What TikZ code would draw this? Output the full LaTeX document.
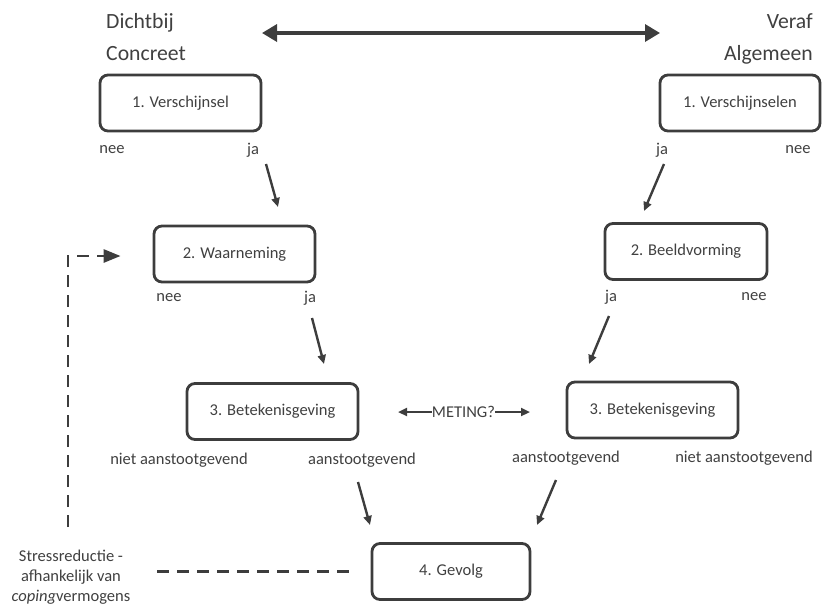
\documentclass[tikz,border=0pt]{standalone}
\usepackage{fontspec}
\setmainfont{Carlito}
\usepackage{tikz}
\usetikzlibrary{calc,shapes,positioning}
\usetikzlibrary{arrows.meta}
\tikzset{>={Triangle[width=8pt,length=9pt]}}
\definecolor{dgray}{HTML}{3D3D3D}
\definecolor{tgray}{HTML}{404040}

\begin{document}
\begin{tikzpicture}[x=1pt,y=-1pt]
          \tikzstyle{box} = [draw=dgray, line width=2.8pt, rounded corners=8pt, minimum height=56pt, text=tgray, font=\fontsize{16.5}{19}\selectfont]
          \tikzstyle{lbl} = [text=tgray, inner sep=0pt, font=\fontsize{16.5}{19}\selectfont]
          \tikzstyle{head} = [text=tgray, inner sep=0pt, font=\fontsize{21.7}{32}\selectfont]
          \tikzstyle{arr} = [->, draw=dgray, line width=2.4pt]
          \tikzstyle{dashline} = [draw=dgray, line width=2.8pt, dash pattern=on 12pt off 8pt]
          \useasboundingbox (0,0) rectangle (823,606);

          % kop
          \node[head, anchor=north west, align=left] (near) at (106,13) {Dichtbij\\Concreet};
          \node[head, anchor=north east, align=right] (far) at (813,13) {Veraf\\Algemeen};
          \coordinate (tl) at (262,33);
          \coordinate (tr) at (660,33);
          \draw[<->, draw=dgray, line width=3.4pt, >={Triangle[width=17pt,length=15pt]}] (tl) -- (tr);

          % links
          \node[box, minimum width=161pt] (v1) at (180.5,103) {1. Verschijnsel};
          \node[lbl] (nee1) at (112,150) {nee};
          \node[lbl] (ja1) at (253,150) {ja};
          \node[box, minimum width=161pt] (w2) at (234.5,254) {2. Waarneming};
          \node[lbl] (nee2) at (169,298) {nee};
          \node[lbl] (ja2) at (310,298) {ja};
          \node[box, minimum width=171pt] (b3) at (272.5,411.5) {3. Betekenisgeving};
          \node[lbl] (niet3) at (179,460) {niet aanstootgevend};
          \node[lbl] (aan3) at (362,460) {aanstootgevend};

          % rechts
          \node[box, minimum width=160pt] (v1r) at (740,103) {1. Verschijnselen};
          \node[lbl] (ja1r) at (662,150) {ja};
          \node[lbl] (nee1r) at (798,150) {nee};
          \node[box, minimum width=162pt] (b2r) at (686,251.5) {2. Beeldvorming};
          \node[lbl] (ja2r) at (611,297) {ja};
          \node[lbl] (nee2r) at (754,297) {nee};
          \node[box, minimum width=171pt] (b3r) at (652.5,410) {3. Betekenisgeving};
          \node[lbl] (aan3r) at (566,458) {aanstootgevend};
          \node[lbl] (niet3r) at (744,458) {niet aanstootgevend};

          \node[box, minimum width=158pt] (g4) at (451,571.5) {4. Gevolg};

          \node[lbl] (meting) at (463.5,412) {METING?};
          \coordinate (mL) at (398,412);
          \coordinate (mR) at (530,412);
          \draw[->, draw=dgray, line width=2.2pt] (meting.west) -- (mL);
          \draw[->, draw=dgray, line width=2.2pt] (meting.east) -- (mR);

          \node[lbl, align=center, font=\fontsize{16.5}{20}\selectfont] (stress) at (71,577) {Stressreductie -\\afhankelijk van\\\textit{coping}vermogens};

          % pijlen
          \coordinate (a1s) at (266,164);  \coordinate (a1e) at (278,207);
          \coordinate (a2s) at (312,318);  \coordinate (a2e) at (324,364);
          \coordinate (a3s) at (358,482);  \coordinate (a3e) at (370,525);
          \coordinate (r1s) at (664,164);  \coordinate (r1e) at (644,211);
          \coordinate (r2s) at (609,316);  \coordinate (r2e) at (589,364);
          \coordinate (r3s) at (556,480);  \coordinate (r3e) at (537,525);
          \draw[arr] (a1s) -- (a1e);
          \draw[arr] (a2s) -- (a2e);
          \draw[arr] (a3s) -- (a3e);
          \draw[arr] (r1s) -- (r1e);
          \draw[arr] (r2s) -- (r2e);
          \draw[arr] (r3s) -- (r3e);

          % terugkoppeling
          \draw[dashline, shorten <=27pt, shorten >=17pt] (stress.east |- g4.west) -- (g4.west);
          \coordinate (fb) at (68,527);
          \draw[dashline, ->, >={Triangle[width=13pt,length=17pt]}, shorten >=32pt] (fb) |- (w2.west |- 0,256);
\end{tikzpicture}
\end{document}
